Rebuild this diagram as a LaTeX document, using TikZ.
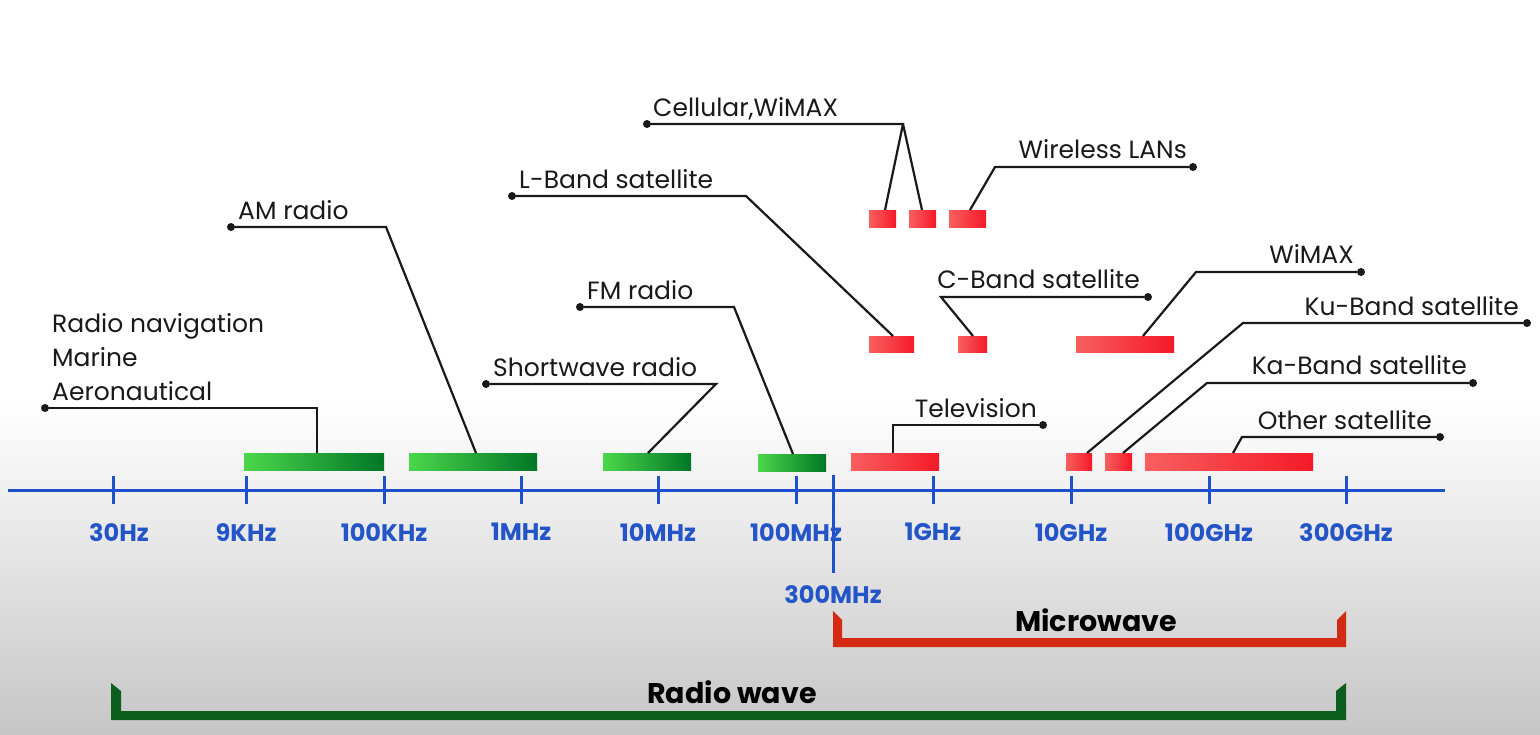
\documentclass[tikz,border=0pt]{standalone}
\usepackage{fontspec}
\setmainfont{Poppins}
\usepackage{tikz}
\usetikzlibrary{positioning}
\definecolor{axisblue}{RGB}{30,80,205}
\definecolor{ticktext}{RGB}{35,85,200}
\definecolor{bandgreenA}{RGB}{75,215,75}
\definecolor{bandgreenB}{RGB}{0,118,38}
\definecolor{bandredA}{RGB}{248,95,95}
\definecolor{bandredB}{RGB}{245,25,40}
\definecolor{microred}{RGB}{212,42,18}
\definecolor{radiogreen}{RGB}{12,94,30}
\definecolor{leadgray}{RGB}{25,25,25}

\begin{document}
\begin{tikzpicture}[x=1pt,y=-1pt,inner sep=0pt,
  tick/.style={rectangle,fill=axisblue,minimum width=3pt,minimum height=28pt},
  ticklbl/.style={text=ticktext,font=\fontsize{24}{26}\selectfont\bfseries},
  greenband/.style={rectangle,left color=bandgreenA,right color=bandgreenB,minimum height=17pt},
  redband/.style={rectangle,left color=bandredA,right color=bandredB,minimum height=17pt},
  dot/.style={circle,fill=leadgray,minimum size=8pt},
  leader/.style={draw=leadgray,line width=2.2pt},
  lbl/.style={text=leadgray,font=\fontsize{25}{27}\selectfont},
  biglbl/.style={text=black,font=\fontsize{28.5}{30}\selectfont\bfseries}]
\useasboundingbox (0,0) rectangle (1540,734);
% Background
\fill [white] (0,0) rectangle (1540,734);
\shade [top color=white,bottom color={rgb,255:red,198;green,198;blue,198}] (0,400) rectangle (1540,734);
% Axis
\coordinate (AxisL) at (8,490);
\coordinate (AxisR) at (1445,490);
\draw [axisblue,line width=3pt] (AxisL) -- (AxisR);
\node at (113,490) [tick] (Tick1) {};
\node at (246,490) [tick] (Tick2) {};
\node at (384,490) [tick] (Tick3) {};
\node at (521,490) [tick] (Tick4) {};
\node at (658,490) [tick] (Tick5) {};
\node at (796,490) [tick] (Tick6) {};
\node at (933,490) [tick] (Tick7) {};
\node at (1071,490) [tick] (Tick8) {};
\node at (1209,490) [tick] (Tick9) {};
\node at (1346,490) [tick] (Tick10) {};
\node at (833,524) [tick,minimum height=98pt] (TickMW) {};
% Tick Labels
\node [ticklbl,below=19pt of Tick1,xshift=6pt] {30Hz};
\node [ticklbl,below=19pt of Tick2] {9KHz};
\node [ticklbl,below=19pt of Tick3] {100KHz};
\node [ticklbl,below=19pt of Tick4] {1MHz};
\node [ticklbl,below=19pt of Tick5] {10MHz};
\node [ticklbl,below=19pt of Tick6] {100MHz};
\node [ticklbl,below=19pt of Tick7] {1GHz};
\node [ticklbl,below=19pt of Tick8] {10GHz};
\node [ticklbl,below=19pt of Tick9] {100GHz};
\node [ticklbl,below=19pt of Tick10] {300GHz};
\node [ticklbl,below=12pt of TickMW] {300MHz};
% Bands
\node at (314,461.5) [greenband,minimum width=140pt] (Band1) {};
\node at (473,461.5) [greenband,minimum width=128pt] (Band2) {};
\node at (647,461.5) [greenband,minimum width=88pt] (Band3) {};
\node at (792,462.5) [greenband,minimum width=68pt] (Band4) {};
\node at (895,461.5) [redband,minimum width=88pt] (Band5) {};
\node at (1079,461.5) [redband,minimum width=26pt] (Band6) {};
\node at (1118.5,461.5) [redband,minimum width=27pt] (Band7) {};
\node at (1229,461.5) [redband,minimum width=168pt] (Band8) {};
\node at (891.5,344) [redband,minimum width=45pt,minimum height=16pt] (Band9) {};
\node at (972.5,344) [redband,minimum width=29pt,minimum height=16pt] (Band10) {};
\node at (1125,344) [redband,minimum width=98pt,minimum height=16pt] (Band11) {};
\node at (882.5,218.5) [redband,minimum width=27pt] (Band12) {};
\node at (922.5,218.5) [redband,minimum width=27pt] (Band13) {};
\node at (967.5,218.5) [redband,minimum width=37pt] (Band14) {};
% Leader Dots
\node at (45,408) [dot] (Dot1) {};
\node at (231,227) [dot] (Dot2) {};
\node at (486,384) [dot] (Dot3) {};
\node at (580,307) [dot] (Dot4) {};
\node at (1043,425) [dot] (Dot5) {};
\node at (1527,323) [dot] (Dot6) {};
\node at (1473,383) [dot] (Dot7) {};
\node at (1440,437) [dot] (Dot8) {};
\node at (512,196) [dot] (Dot9) {};
\node at (1148,297) [dot] (Dot10) {};
\node at (1361,272) [dot] (Dot11) {};
\node at (647,124) [dot] (Dot12) {};
\node at (1193,167) [dot] (Dot13) {};
% Leader Bends
\coordinate (Bend1) at (317,408);
\coordinate (Bend2) at (386,227);
\coordinate (Bend3) at (716,384);
\coordinate (Bend4) at (734,307);
\coordinate (Bend5) at (893,425);
\coordinate (Bend6) at (1243,323);
\coordinate (Bend7) at (1207,383);
\coordinate (Bend8) at (1242,437);
\coordinate (Bend9) at (746,196);
\coordinate (Bend10) at (941,297);
\coordinate (Bend11) at (1196,272);
\coordinate (Bend12) at (903,124);
\coordinate (Bend13) at (995,167);
% Leader Ends
\coordinate (End2) at (476,453);
\coordinate (End3) at (648,453);
\coordinate (End4) at (793,454);
\coordinate (End6) at (1087,453);
\coordinate (End7) at (1123,453);
\coordinate (End8) at (1233,453);
\coordinate (End9) at (893,336);
\coordinate (End10) at (973,336);
\coordinate (End11) at (1143,336);
\coordinate (End12a) at (885,210);
\coordinate (End12b) at (922,210);
\coordinate (End13) at (970,210);
% Leader Connections
\draw [leader] (Dot1) -- (Bend1) -- (Bend1 |- Band1.north);
\draw [leader] (Dot2) -- (Bend2) -- (End2);
\draw [leader] (Dot3) -- (Bend3) -- (End3);
\draw [leader] (Dot4) -- (Bend4) -- (End4);
\draw [leader] (Dot5) -- (Bend5) -- (Bend5 |- Band5.north);
\draw [leader] (Dot6) -- (Bend6) -- (End6);
\draw [leader] (Dot7) -- (Bend7) -- (End7);
\draw [leader] (Dot8) -- (Bend8) -- (End8);
\draw [leader] (Dot9) -- (Bend9) -- (End9);
\draw [leader] (Dot10) -- (Bend10) -- (End10);
\draw [leader] (Dot11) -- (Bend11) -- (End11);
\draw [leader] (Dot12) -- (Bend12) -- (End12a);
\draw [leader] (Bend12) -- (End12b);
\draw [leader] (Dot13) -- (Bend13) -- (End13);
% Band Labels
\node [lbl,anchor=base west] at (52,332) {Radio navigation};
\node [lbl,anchor=base west] at (52,366) {Marine};
\node [lbl,anchor=base west] at (52,400) {Aeronautical};
\node [lbl,anchor=base west] at (238,219) {AM radio};
\node [lbl,anchor=base west] at (493,376) {Shortwave radio};
\node [lbl,anchor=base west] at (587,299) {FM radio};
\node [lbl,anchor=base west] at (519,188) {L-Band satellite};
\node [lbl,anchor=base west] at (653,116) {Cellular,WiMAX};
\node [lbl,anchor=base east] at (1187,158) {Wireless LANs};
\node [lbl,anchor=base east] at (1140,288) {C-Band satellite};
\node [lbl,anchor=base east] at (1354,263) {WiMAX};
\node [lbl,anchor=base east] at (1519,315) {Ku-Band satellite};
\node [lbl,anchor=base east] at (1467,374) {Ka-Band satellite};
\node [lbl,anchor=base east] at (1432,429) {Other satellite};
\node [lbl,anchor=base east] at (1037,417) {Television};
% Brackets
\fill [microred] (833,611) -- (842,620) -- (842,638) -- (1337,638) -- (1337,620) -- (1346,611) -- (1346,647) -- (833,647) -- cycle;
\fill [radiogreen] (111,683) -- (121,691) -- (121,711) -- (1336,711) -- (1336,691) -- (1346,683) -- (1346,720) -- (111,720) -- cycle;
\node at (1096,620) [biglbl] (MicroLbl) {Microwave};
\node at (732,692) [biglbl] (RadioLbl) {Radio wave};
\end{tikzpicture}
\end{document}
